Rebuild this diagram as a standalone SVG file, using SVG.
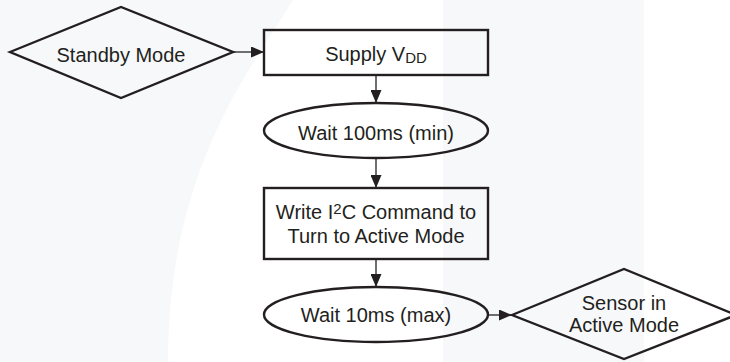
<svg xmlns="http://www.w3.org/2000/svg" width="730" height="362" viewBox="0 0 730 362">
<defs>
<style>
.bg{fill:#f7f8fa;stroke:none}
.shape{fill:none;stroke:#231f20;stroke-width:2.4;stroke-linejoin:miter}
.conn{fill:none;stroke:#333333;stroke-width:1.4}
text{font-family:"Liberation Sans",Arial,Helvetica,sans-serif;font-size:20px;fill:#231f20;text-anchor:middle}
.small{font-size:15px}
</style>
<marker id="arrow" viewBox="0 0 13 11" refX="13" refY="5.5" markerWidth="13" markerHeight="11" markerUnits="userSpaceOnUse" orient="auto">
<path d="M0,0 L13,5.5 L0,11 Z" fill="#231f20"/>
</marker>
</defs>
<g id="background">
<path class="bg" d="M0,0 L293,0 C250,70 168,170 168,362 L0,362 Z"/>
<rect class="bg" x="443" y="0" width="201" height="362"/>
</g>
<g id="connectors">
<line class="conn" x1="234" y1="52" x2="264" y2="52" marker-end="url(#arrow)"/>
<line class="conn" x1="376" y1="76" x2="376" y2="103" marker-end="url(#arrow)"/>
<line class="conn" x1="376" y1="158" x2="376" y2="188" marker-end="url(#arrow)"/>
<line class="conn" x1="376" y1="259" x2="376" y2="287" marker-end="url(#arrow)"/>
<line class="conn" x1="489" y1="315" x2="512" y2="315" marker-end="url(#arrow)"/>
</g>
<g id="standby">
<polygon class="shape" points="10,52 121,7 233,52 121,98"/>
<text x="121" y="62">Standby Mode</text>
</g>
<g id="supply">
<rect class="shape" x="264" y="30" width="224" height="45"/>
<text x="376" y="61">Supply V<tspan class="small" dy="2">DD</tspan></text>
</g>
<g id="wait100">
<ellipse class="shape" cx="376" cy="130.5" rx="112" ry="27.5"/>
<text x="376" y="140">Wait 100ms (min)</text>
</g>
<g id="writei2c">
<rect class="shape" x="264" y="188" width="224" height="71"/>
<text x="376" y="219">Write I<tspan class="small" dy="-5">2</tspan><tspan dy="5">C Command to</tspan></text>
<text x="376" y="243">Turn to Active Mode</text>
</g>
<g id="wait10">
<ellipse class="shape" cx="376" cy="314.5" rx="112" ry="27.5"/>
<text x="376" y="322">Wait 10ms (max)</text>
</g>
<g id="sensor">
<polygon class="shape" points="512,315 624,269 736,315 624,359"/>
<text x="624" y="310">Sensor in</text>
<text x="624" y="332">Active Mode</text>
</g>
</svg>
